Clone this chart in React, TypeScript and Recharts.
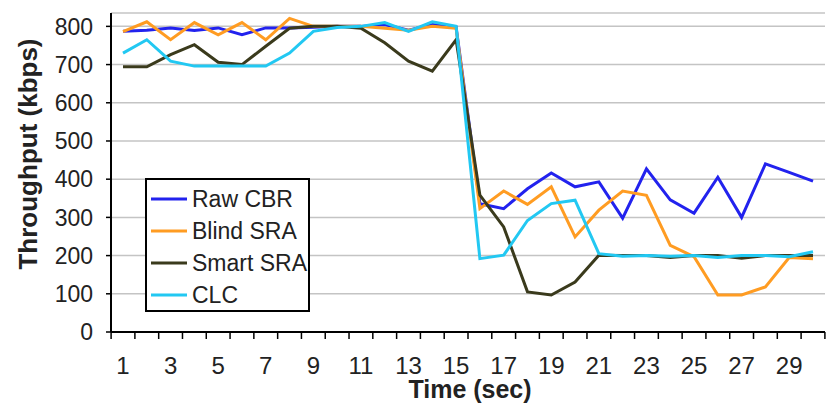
import { CartesianGrid, Label, Legend, Line, LineChart, XAxis, YAxis } from "recharts"

const time = [1, 2, 3, 4, 5, 6, 7, 8, 9, 10, 11, 12, 13, 14, 15, 16, 17, 18, 19, 20, 21, 22, 23, 24, 25, 26, 27, 28, 29, 30]

const rawCbr = [787, 790, 796, 789, 796, 778, 796, 796, 798, 800, 800, 805, 790, 805, 798, 336, 323, 375, 416, 380, 393, 298, 427, 346, 311, 405, 300, 440, 418, 395]
const blindSra = [786, 812, 765, 810, 778, 810, 765, 821, 800, 800, 800, 795, 790, 800, 795, 323, 369, 334, 380, 249, 319, 369, 358, 227, 197, 97, 97, 118, 195, 192]
const smartSra = [694, 694, 726, 752, 706, 700, 748, 795, 800, 800, 795, 757, 709, 683, 765, 358, 275, 105, 97, 131, 201, 200, 200, 195, 200, 200, 193, 200, 200, 200]
const clc = [730, 765, 709, 696, 696, 696, 696, 730, 787, 797, 800, 810, 787, 812, 800, 192, 201, 292, 336, 345, 205, 198, 200, 198, 200, 195, 200, 200, 197, 210]

const seriesNames = ["Raw CBR", "Blind SRA", "Smart SRA", "CLC"]
const yTicks = [0, 100, 200, 300, 400, 500, 600, 700, 800]

const data = time.map((t, i) => ({
  time: t,
  raw: rawCbr[i],
  blind: blindSra[i],
  smart: smartSra[i],
  clc: clc[i],
}))

const font = "'Liberation Sans', Arial, sans-serif"
const half = 11.9

function TimeTick(props: any) {
  const { x, y, payload, index } = props
  return (
    <g>
      <line x1={x - half} x2={x - half} y1={y} y2={y + 7} stroke="#000" strokeWidth={1.5} />
      {index === time.length - 1 && (
        <line x1={x + half} x2={x + half} y1={y} y2={y + 7} stroke="#000" strokeWidth={1.5} />
      )}
      {payload.value % 2 === 1 && (
        <text x={x} y={y + 42} textAnchor="middle" fontSize={24} fontFamily={font} fill="#222">
          {payload.value}
        </text>
      )}
    </g>
  )
}

function LegendBox(props: any) {
  const items = [...(props.payload || [])].sort(
    (a: any, b: any) => seriesNames.indexOf(a.value) - seriesNames.indexOf(b.value)
  )
  return (
    <div
      style={{
        position: "absolute",
        left: 0,
        top: 0,
        border: "2px solid #000",
        background: "#fff",
        width: 165,
        height: 134,
        boxSizing: "border-box",
        paddingTop: 3,
        fontFamily: font,
        fontSize: 23,
        color: "#222",
        textAlign: "left",
      }}
    >
      {items.map((it: any) => (
        <div key={it.value} style={{ height: 32, display: "flex", alignItems: "center" }}>
          <svg width={45} height={32}>
            <line x1={4} x2={40} y1={16} y2={16} stroke={it.color} strokeWidth={3} />
          </svg>
          <span>{it.value}</span>
        </div>
      ))}
    </div>
  )
}

export default function App() {
  return (
    <div style={{ position: "absolute", left: 0, top: 0, background: "#fff" }}>
      <LineChart width={826} height={403} data={data} margin={{ top: 13, right: 1, left: 0, bottom: 0 }}>
        <CartesianGrid vertical={false} stroke="#c4c4c4" strokeWidth={1.5} />
        <XAxis
          dataKey="time"
          height={71}
          interval={0}
          padding={{ left: 12, right: 12 }}
          tickSize={0}
          tickMargin={0}
          tickLine={false}
          axisLine={{ stroke: "#000", strokeWidth: 2 }}
          tick={<TimeTick />}
        >
          <Label
            content={() => (
              <text x={470} y={398} textAnchor="middle" fontSize={25} fontWeight="bold" fontFamily={font} fill="#222">
                Time (sec)
              </text>
            )}
          />
        </XAxis>
        <YAxis
          width={111}
          domain={[0, 835]}
          ticks={yTicks}
          interval={0}
          tickSize={5}
          tickMargin={13}
          tickLine={{ stroke: "#000", strokeWidth: 1.5 }}
          axisLine={{ stroke: "#000", strokeWidth: 2 }}
          tick={{ fontSize: 23, fontFamily: font, fill: "#222" }}
        >
          <Label
            content={() => (
              <text
                x={37}
                y={154}
                textAnchor="middle"
                fontSize={26}
                fontWeight="bold"
                fontFamily={font}
                fill="#222"
                transform="rotate(-90, 37, 154)"
              >
                Throughput (kbps)
              </text>
            )}
          />
        </YAxis>
        <Legend
          content={<LegendBox />}
          wrapperStyle={{ left: 145, top: 178, width: 0, height: 0, overflow: "visible" }}
        />
        <Line type="linear" dataKey="raw" name="Raw CBR" stroke="#2222ee" strokeWidth={3} dot={false} isAnimationActive={false} />
        <Line type="linear" dataKey="blind" name="Blind SRA" stroke="#ff9c22" strokeWidth={3} dot={false} isAnimationActive={false} />
        <Line type="linear" dataKey="smart" name="Smart SRA" stroke="#3a3a1c" strokeWidth={3} dot={false} isAnimationActive={false} />
        <Line type="linear" dataKey="clc" name="CLC" stroke="#22c8f2" strokeWidth={3} dot={false} isAnimationActive={false} />
      </LineChart>
    </div>
  )
}
